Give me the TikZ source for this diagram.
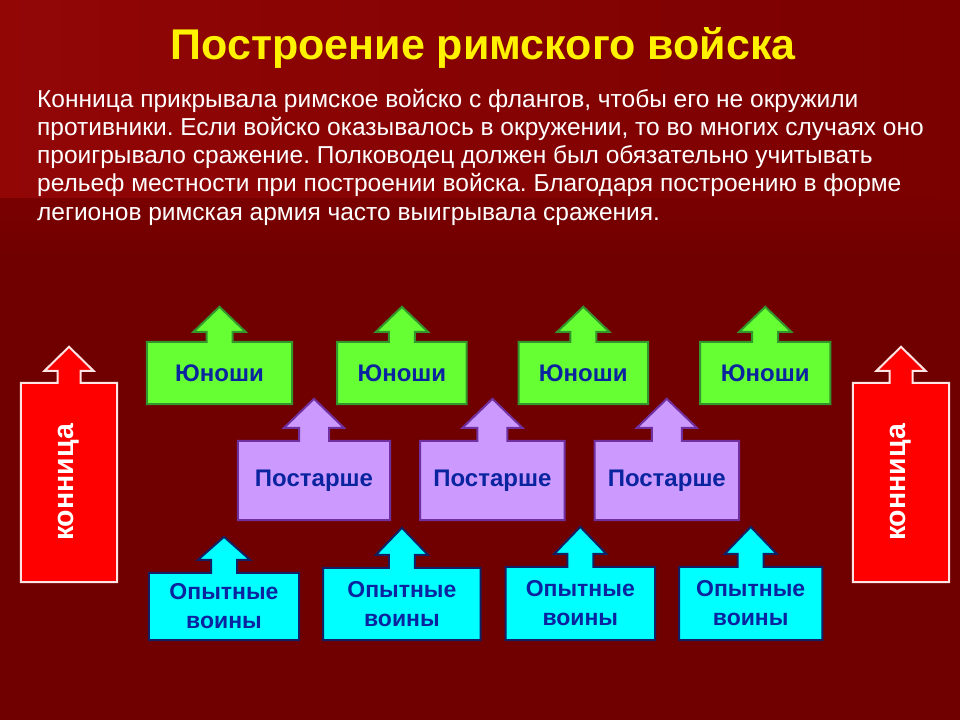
\documentclass[tikz,border=0pt]{standalone}
\usepackage{graphicx}
\usepackage{fontspec}
\setmainfont{Liberation Sans}
\frenchspacing
\usetikzlibrary{positioning, backgrounds}

\definecolor{bgdark}{RGB}{112,0,0}
\definecolor{bgtop}{RGB}{146,6,6}
\definecolor{bgmid}{RGB}{122,0,0}
\definecolor{armyblue}{RGB}{10,36,160}
\definecolor{youthfill}{RGB}{102,255,51}
\definecolor{youthline}{RGB}{51,150,45}
\definecolor{elderfill}{RGB}{204,153,255}
\definecolor{elderline}{RGB}{112,48,160}
\definecolor{vetfill}{RGB}{0,255,255}
\definecolor{vetline}{RGB}{20,32,100}
\definecolor{cavfill}{RGB}{255,0,0}
\definecolor{cavline}{RGB}{255,228,228}

% box with an arrow on its top edge: node, shaft half width, shaft height, head half width, head height, colours
\newcommand{\arrowbox}[6]{%
  \draw[line width=2pt, #6] (#1.south west) -- (#1.north west)
    -- ([xshift=-#2pt]#1.north) -- ([xshift=-#2pt,yshift=#3pt]#1.north)
    -- ([xshift=-#4pt,yshift=#3pt]#1.north) -- ([yshift={#3pt+#5pt}]#1.north)
    -- ([xshift=#4pt,yshift=#3pt]#1.north) -- ([xshift=#2pt,yshift=#3pt]#1.north)
    -- ([xshift=#2pt]#1.north) -- (#1.north east) -- (#1.south east) -- cycle;}

\tikzset{
  army/.style={inner sep=0pt, text=armyblue, align=center,
    font=\bfseries\fontsize{24}{29}\selectfont},
  youth/.style={army, minimum height=62pt},
  elder/.style={army, minimum height=79pt},
  veteran/.style={army, font=\bfseries\fontsize{23}{29}\selectfont},
  cavalry/.style={inner sep=0pt, text=white, minimum width=96pt, minimum height=199pt,
    font=\bfseries\fontsize{28.5}{32}\selectfont},
}

\begin{document}
\begin{tikzpicture}[x=1pt, y=-1pt]
    \useasboundingbox (0,0) rectangle (960,720);

    \node(title)[anchor=base, text=yellow,
      font=\bfseries\fontsize{43}{46}\selectfont] at (483,59)
      {Построение римского войска};

    \foreach \line [count=\i] in {
      {Конница прикрывала римское войско с флангов, чтобы его не окружили},
      {противники. Если войско оказывалось в окружении, то во многих случаях оно},
      {проигрывало сражение. Полководец должен был обязательно учитывать},
      {рельеф местности при построении войска. Благодаря построению в форме},
      {легионов римская армия часто выигрывала сражения.}}
      \node(line\i)[anchor=base west, inner sep=0pt, text=white,
        font=\fontsize{24.5}{28}\selectfont] at (37,{78.75+28.25*\i}) {\line};

    % the young in front
    \node(g1)[youth, minimum width=145pt] at (219.5,373) {Юноши};
    \node(g2)[youth, minimum width=129pt, right=45pt of g1] {Юноши};
    \node(g3)[youth, minimum width=129pt, right=52pt of g2] {Юноши};
    \node(g4)[youth, minimum width=130pt, right=52pt of g3] {Юноши};

    % the older behind them
    \node(p1)[elder, minimum width=152pt] at (314,480.5) {Постарше};
    \node(p2)[elder, minimum width=144pt, right=30pt of p1] {Постарше};
    \node(p3)[elder, minimum width=144pt, right=30pt of p2] {Постарше};

    % the veterans at the back
    \node(c1)[veteran, minimum width=150pt, minimum height=67pt] at (224,606.5) {Опытные\\воины};
    \node(c2)[veteran, minimum width=157pt, minimum height=72pt,
      right=24pt of c1.south east, anchor=south west] {Опытные\\воины};
    \node(c3)[veteran, minimum width=149pt, minimum height=73pt,
      right=25pt of c2.south east, anchor=south west] {Опытные\\воины};
    \node(c4)[veteran, minimum width=143pt, minimum height=73pt,
      right=24pt of c3.south east, anchor=south west] {Опытные\\воины};

    % cavalry on the flanks
    \node(r1)[cavalry] at (69,482.5) {\rotatebox{90}{конница}};
    \node(r2)[cavalry] at (901,482.5) {\rotatebox{90}{конница}};

    \begin{scope}[on background layer]
      \fill[bgdark] (0,0) rectangle (960,720);
      \fill[left color=bgtop, right color=bgmid] (0,0) rectangle (960,198);
      \fill[top color=bgmid, bottom color=bgdark] (0,198) rectangle (960,260);
      \foreach \n in {g1,g2,g3,g4}
        \arrowbox{\n}{13}{10}{26}{25}{draw=youthline, fill=youthfill};
      \foreach \n in {p1,p2,p3}
        \arrowbox{\n}{15}{13}{30}{29}{draw=elderline, fill=elderfill};
      \foreach \n/\t in {c1/23,c2/27,c3/27,c4/27}
        \arrowbox{\n}{13}{13}{26}{\t}{draw=vetline, fill=vetfill};
      \foreach \n in {r1,r2}
        \arrowbox{\n}{11.5}{12}{24.5}{24}{draw=cavline, fill=cavfill};
    \end{scope}
  \end{tikzpicture}
\end{document}
